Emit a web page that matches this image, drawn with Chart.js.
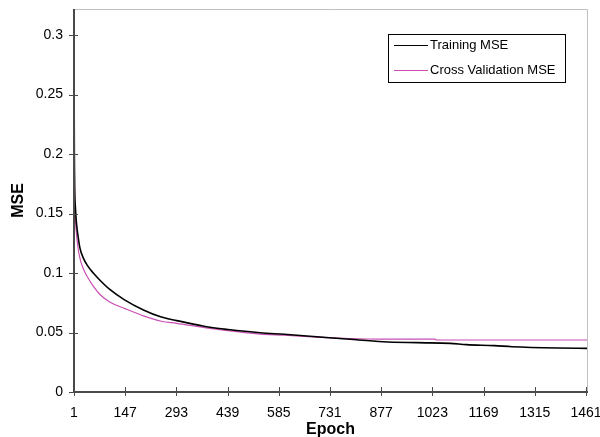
<!DOCTYPE html>
<html>
<head>
<meta charset="utf-8">
<script src="https://cdn.jsdelivr.net/npm/chart.js@4/dist/chart.umd.min.js"></script>
<style>
  html, body { margin: 0; padding: 0; background: #fff; }
  #wrap { width: 600px; height: 437px; }
</style>
</head>
<body>
<div id="wrap"><canvas id="mseChart" width="600" height="437"></canvas></div>
<script>
  // Data
  const trainEpochs = [1, 2, 3, 5, 8, 13, 18, 27, 40, 56, 75, 104, 145, 199, 250, 294, 360, 389, 440, 532, 600, 693, 788, 883, 980, 1074, 1120, 1200, 1250, 1380, 1464];
  const trainMSE = [0.287, 0.2, 0.17, 0.155, 0.142, 0.13, 0.121, 0.113, 0.106, 0.1, 0.094, 0.086, 0.0775, 0.069, 0.063, 0.06, 0.056, 0.0544, 0.0525, 0.0498, 0.0485, 0.0465, 0.0443, 0.0423, 0.0415, 0.0409, 0.0398, 0.039, 0.0381, 0.037, 0.0367];

  const cvEpochs = [1, 2, 3, 5, 8, 13, 20, 30, 45, 56, 75, 104, 145, 199, 250, 294, 389, 532, 600, 693, 788, 880, 1030, 1035, 1464];
  const cvMSE = [0.25, 0.19, 0.16, 0.145, 0.133, 0.12, 0.11, 0.102, 0.094, 0.089, 0.082, 0.0755, 0.0703, 0.064, 0.0595, 0.0577, 0.0535, 0.0487, 0.0478, 0.0462, 0.045, 0.0445, 0.0445, 0.0437, 0.0437];

  const xTicks = [1, 147, 293, 439, 585, 731, 877, 1023, 1169, 1315, 1461];
  const yTicks = [0, 0.05, 0.1, 0.15, 0.2, 0.25, 0.3];

  const seriesNames = ["Training MSE", "Cross Validation MSE"];
  const seriesColors = ["#000000", "#c94fb4"];

  const pts = (xs, ys) => xs.map((x, i) => ({ x: x, y: ys[i] }));

  // axis lines, crossing tick marks, frame and the boxed legend
  const frame = {
    id: "frame",
    afterDraw(chart) {
      const ctx = chart.ctx;
      const a = chart.chartArea;
      const xs = chart.scales.x, ys = chart.scales.y;
      ctx.save();
      ctx.strokeStyle = "#c0c0c0";
      ctx.lineWidth = 1;
      ctx.beginPath();
      ctx.moveTo(a.left, a.top + 0.5);
      ctx.lineTo(a.right + 0.5, a.top + 0.5);
      ctx.lineTo(a.right + 0.5, a.bottom);
      ctx.stroke();

      ctx.strokeStyle = "#4a4a4a";
      ctx.lineWidth = 2;
      ctx.beginPath();
      ctx.moveTo(a.left, a.top);
      ctx.lineTo(a.left, a.bottom);
      ctx.lineTo(a.right + 1, a.bottom);
      ctx.stroke();

      ctx.lineWidth = 1;
      ctx.beginPath();
      yTicks.forEach(v => {
        const py = Math.round(ys.getPixelForValue(v)) + 0.5;
        ctx.moveTo(a.left - 5, py);
        ctx.lineTo(a.left + 4, py);
      });
      xTicks.forEach(v => {
        const px = Math.round(xs.getPixelForValue(v)) + 0.5;
        ctx.moveTo(px, a.bottom - 5);
        ctx.lineTo(px, a.bottom + 4);
      });
      ctx.stroke();

      // legend
      const bx = 388, by = 34, bw = 177, bh = 48;
      ctx.fillStyle = "#fff";
      ctx.fillRect(bx, by, bw, bh);
      ctx.strokeStyle = "#000";
      ctx.lineWidth = 1;
      ctx.strokeRect(bx + 0.5, by + 0.5, bw, bh);
      ctx.font = "13px 'Liberation Sans', Arial, sans-serif";
      ctx.textBaseline = "middle";
      chart.data.datasets.forEach((ds, i) => {
        const ly = by + 11.5 + i * 25;
        ctx.strokeStyle = ds.borderColor;
        ctx.beginPath();
        ctx.moveTo(bx + 6, ly);
        ctx.lineTo(bx + 40, ly);
        ctx.stroke();
        ctx.fillStyle = "#000";
        ctx.fillText(ds.label, bx + 42, ly);
      });
      ctx.restore();
    }
  };

  new Chart(document.getElementById("mseChart"), {
    type: "line",
    data: {
      datasets: [
        { label: seriesNames[0], data: pts(trainEpochs, trainMSE), borderColor: seriesColors[0], borderWidth: 1.6, pointRadius: 0, cubicInterpolationMode: "monotone" },
        { label: seriesNames[1], data: pts(cvEpochs, cvMSE), borderColor: seriesColors[1], borderWidth: 1.2, pointRadius: 0, cubicInterpolationMode: "monotone" }
      ]
    },
    options: {
      responsive: false,
      animation: false,
      devicePixelRatio: 1,
      layout: { padding: { top: 9, right: 13, left: 0, bottom: 0 } },
      plugins: { legend: { display: false }, tooltip: { enabled: false } },
      scales: {
        x: {
          type: "linear",
          min: 1,
          max: 1464,
          grid: { display: false },
          border: { display: false },
          afterBuildTicks: s => { s.ticks = xTicks.map(v => ({ value: v })); },
          afterFit: s => { s.height = 45; s.paddingLeft = 0; s.paddingRight = 0; },
          ticks: {
            maxRotation: 0, autoSkip: false, padding: 5, color: "#000",
            font: { family: "'Liberation Sans', Arial", size: 14 },
            callback: v => String(v)
          },
          title: {
            display: true, text: "Epoch", color: "#000", padding: { top: 0, bottom: -2 },
            font: { family: "'Liberation Sans', Arial", size: 16, weight: "bold" }
          }
        },
        y: {
          min: 0,
          max: 0.322,
          grid: { display: false },
          border: { display: false },
          afterBuildTicks: s => { s.ticks = yTicks.map(v => ({ value: v })); },
          afterFit: s => { s.width = 74; s.paddingTop = 0; s.paddingBottom = 0; },
          ticks: {
            padding: 3, color: "#000",
            font: { family: "'Liberation Sans', Arial", size: 14 },
            callback: v => String(v)
          },
          title: {
            display: true, text: "MSE", color: "#000", padding: { top: 9, bottom: 0 },
            font: { family: "'Liberation Sans', Arial", size: 16, weight: "bold" }
          }
        }
      }
    },
    plugins: [frame]
  });
</script>
</body>
</html>
